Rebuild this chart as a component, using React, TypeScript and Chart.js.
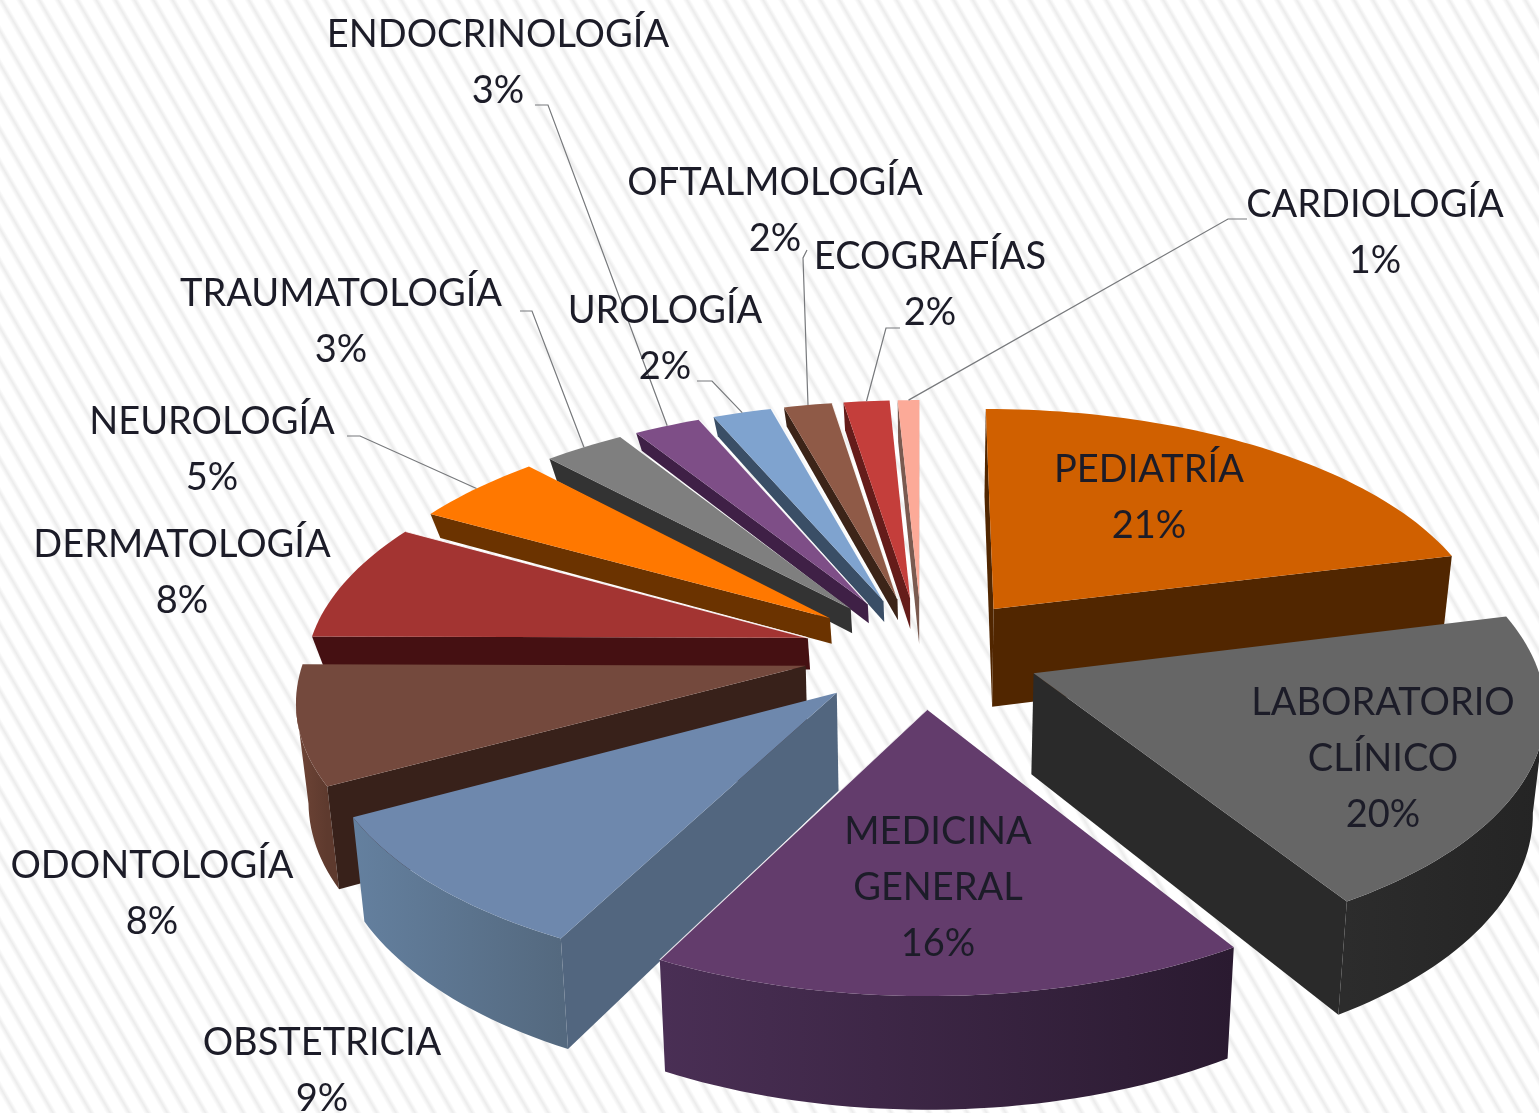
import React, { useEffect, useRef } from "react";
import { Chart, registerables } from "chart.js";

Chart.register(...registerables);

// ---------- data ----------
const categories = [
  "PEDIATRÍA", "LABORATORIO CLÍNICO", "MEDICINA GENERAL", "OBSTETRICIA", "ODONTOLOGÍA",
  "DERMATOLOGÍA", "NEUROLOGÍA", "TRAUMATOLOGÍA", "ENDOCRINOLOGÍA", "UROLOGÍA",
  "OFTALMOLOGÍA", "ECOGRAFÍAS", "CARDIOLOGÍA",
];
const shares = [21.1, 20.02, 16.49, 9.49, 8, 8, 4.9, 3, 2.5, 2.2, 1.8, 1.7, 0.8];

// ---------- styles ----------
const topColors = ["#d06000", "#666666", "#633c6c", "#6e88ad", "#74493d", "#a33432", "#ff7800", "#7f7f7f", "#7e4e87", "#7fa3cf", "#8f5a47", "#c43e3b", "#fcaa98"];
const cutColors = ["#512600", "#2a2a2a", "#2a1a30", "#52667f", "#38211a", "#451012", "#6b3300", "#333333", "#3f2046", "#3a4e66", "#3c2418", "#651c1a", "#7a5a50"];
const wallLeft = ["#512600", "#2c2c2c", "#4a2f55", "#64809f", "#6f4537", "#451012", "#6b3300", "#333333", "#3f2046", "#3a4e66", "#3c2418", "#651c1a", "#7a5a50"];
const wallRight = ["#4a2200", "#242424", "#2a1a30", "#54697f", "#5e3a2e", "#451012", "#6b3300", "#333333", "#3f2046", "#3a4e66", "#3c2418", "#651c1a", "#7a5a50"];
const sliceDepths = [100, 100, 96, 96, 96, 32, 26, 25, 20, 22, 22, 32, 48];
const lightEdgeSlices = [2, 5, 8, 9, 10];

// label placement: centre of first text line, per category
const labelAnchors: [number, number][] = [
  [1149, 470], [1383, 703], [938, 832], [322, 1043], [152, 866], [182, 545], [212, 422],
  [341, 294], [498, 35], [665, 311], [775, 183], [930, 257], [1375, 205],
];
// leader line starts near the label (the end is taken from the slice's rim)
const leaderStarts: ([number, number][] | null)[] = [
  null, null, null, null, null, null,
  [[347, 436], [360, 436]],
  [[520, 311], [532, 311]],
  [[535, 105], [548, 105]],
  [[697, 381], [712, 381]],
  [[807, 250], [803, 258]],
  [[900, 328], [886, 328]],
  [[1247, 219], [1228, 219]],
];

const LINE_HEIGHT = 56;
const FONT = "38px Lato";
const TEXT = "#1c1c28";

// projection of the flat pie to the tilted view
const CX = 922, CY = 652, RX = 500, RY = 235, PERSP = 0.125, EXPLODE = 0.238, BOTTOM_SHRINK = 0.98;

function project(u: number, v: number, depth = 0): [number, number] {
  const s = 1 / (1 - PERSP * v);
  let x = CX + RX * u * s;
  const y = CY + RY * v * s + depth * s;
  if (depth) x = CX + (x - CX) * BOTTOM_SHRINK;
  return [x, y];
}

function poly(ctx: CanvasRenderingContext2D, pts: [number, number][]) {
  ctx.beginPath();
  pts.forEach((p, i) => (i ? ctx.lineTo(p[0], p[1]) : ctx.moveTo(p[0], p[1])));
  ctx.closePath();
}

const pie3d = {
  id: "pie3d",
  beforeDatasetDraw(chart: any) {
    const ctx: CanvasRenderingContext2D = chart.ctx;
    const arcs: any[] = chart.getDatasetMeta(0).data;
    const order = arcs
      .map((arc, i) => ({ i, mid: (arc.startAngle + arc.endAngle) / 2 }))
      .sort((a, b) => Math.sin(a.mid) - Math.sin(b.mid));

    const rimMid: Record<number, [number, number]> = {};

    for (const { i, mid } of order) {
      const arc = arcs[i];
      const a0 = arc.startAngle, a1 = arc.endAngle;
      const eu = EXPLODE * Math.cos(mid), ev = EXPLODE * Math.sin(mid);
      const at = (t: number, d = 0) => project(eu + Math.cos(t), ev + Math.sin(t), d);
      const apex = project(eu, ev), apexB = project(eu, ev, sliceDepths[i]);
      const N = Math.max(6, Math.ceil((a1 - a0) * 40));
      const angs: number[] = [];
      for (let k = 0; k <= N; k++) angs.push(a0 + ((a1 - a0) * k) / N);
      const rim = angs.map((t) => at(t));
      const rimB = angs.map((t) => at(t, sliceDepths[i]));
      rimMid[i] = at(mid);

      // rim wall: one polygon per run of segments facing the viewer
      const xs = rim.map((p) => p[0]);
      const grad = ctx.createLinearGradient(Math.min(...xs), 0, Math.max(...xs), 0);
      grad.addColorStop(0, wallLeft[i]);
      grad.addColorStop(1, wallRight[i]);
      ctx.fillStyle = grad;
      let runStart = -1;
      for (let k = 0; k <= N; k++) {
        const facing = k < N && rim[k + 1][0] < rim[k][0];
        if (facing && runStart < 0) runStart = k;
        if (!facing && runStart >= 0) {
          const topRun = rim.slice(runStart, k + 1);
          const botRun = rimB.slice(runStart, k + 1).reverse();
          poly(ctx, [...topRun, ...botRun]);
          ctx.fill();
          runStart = -1;
        }
      }
      // cut faces
      ctx.fillStyle = cutColors[i];
      const first = rim[0], last = rim[N];
      if (first[0] < apex[0]) {
        poly(ctx, [apex, first, rimB[0], apexB]);
        ctx.fill();
      }
      if (apex[0] < last[0]) {
        poly(ctx, [last, apex, apexB, rimB[N]]);
        ctx.fill();
      }
      // top face
      poly(ctx, [apex, ...rim]);
      ctx.fillStyle = arc.options.backgroundColor;
      ctx.fill();
      if (lightEdgeSlices.includes(i)) {
        ctx.beginPath();
        ctx.moveTo(last[0], last[1]);
        ctx.lineTo(apex[0], apex[1]);
        ctx.strokeStyle = "rgba(255,255,255,0.85)";
        ctx.lineWidth = 1.2;
        ctx.stroke();
      }
    }

    // leader lines
    ctx.strokeStyle = "#77797c";
    ctx.lineWidth = 1.2;
    leaderStarts.forEach((pts, i) => {
      if (!pts) return;
      ctx.beginPath();
      ctx.moveTo(pts[0][0], pts[0][1]);
      ctx.lineTo(pts[1][0], pts[1][1]);
      ctx.lineTo(rimMid[i][0], rimMid[i][1]);
      ctx.stroke();
    });

    // labels
    ctx.font = FONT;
    ctx.fillStyle = TEXT;
    ctx.textAlign = "center";
    ctx.textBaseline = "middle";
    const labels: string[] = chart.data.labels;
    labels.forEach((name, i) => {
      const lines = [...name.split(" "), `${Math.round(shares[i])}%`];
      lines.forEach((line, k) => {
        ctx.fillText(line, labelAnchors[i][0], labelAnchors[i][1] + k * LINE_HEIGHT);
      });
    });
    return false;
  },
};

export default function App() {
  const ref = useRef<HTMLCanvasElement>(null);
  useEffect(() => {
    document.body.style.margin = "0";
    const chart = new Chart(ref.current!, {
      type: "pie",
      data: {
        labels: categories,
        datasets: [{ data: shares, backgroundColor: topColors, borderWidth: 0, offset: 40 }],
      },
      options: {
        animation: false,
        responsive: false,
        plugins: { legend: { display: false }, tooltip: { enabled: false } },
      },
      plugins: [pie3d],
    } as any);
    return () => chart.destroy();
  }, []);
  return (
    <div style={{ position: "absolute", left: 0, top: 0, width: 1539, height: 1113, overflow: "hidden" }}>
      <canvas
        ref={ref}
        width={1539}
        height={1113}
        style={{
          display: "block",
          background: "repeating-linear-gradient(60deg, #ffffff 0px, #ffffff 9px, #ececec 13px, #ffffff 16.5px)",
        }}
      />
    </div>
  );
}
